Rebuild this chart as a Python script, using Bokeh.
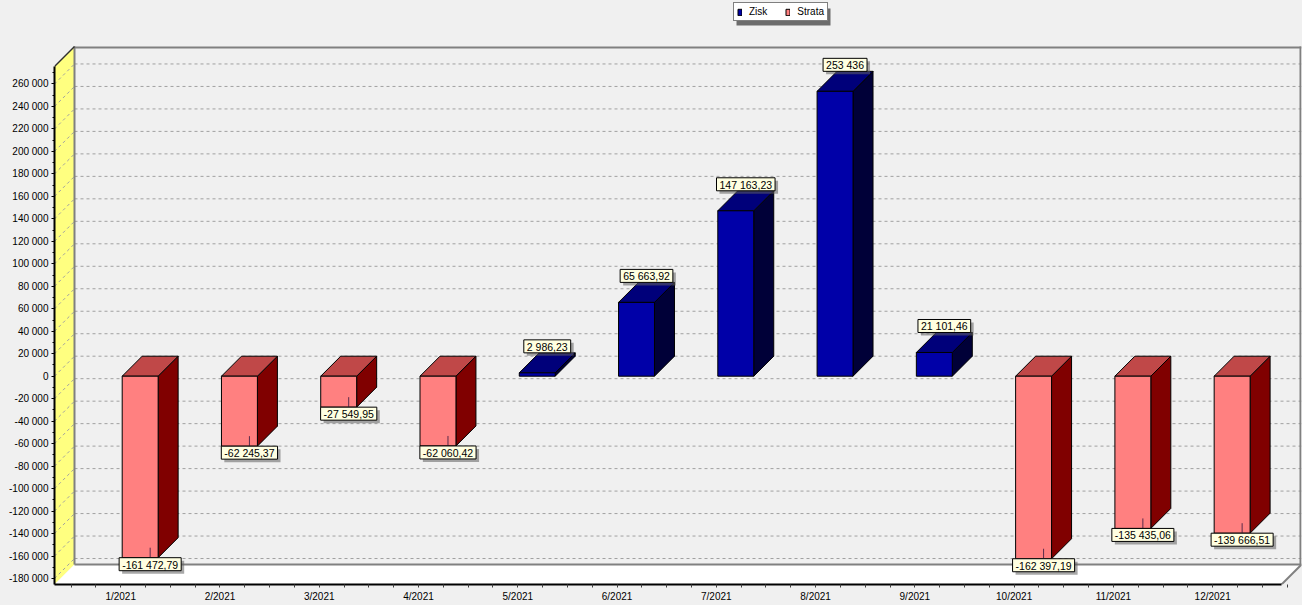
import numpy as np
from bokeh.plotting import figure
from bokeh.models import Range1d, FixedTicker, Legend, LegendItem, CustomJSTickFormatter
from bokeh.core.properties import value
from bokeh.embed import file_html
from bokeh.resources import INLINE

# ---------------- data ----------------
months = ["1/2021", "2/2021", "3/2021", "4/2021", "5/2021", "6/2021",
          "7/2021", "8/2021", "9/2021", "10/2021", "11/2021", "12/2021"]
amounts = [-161472.79, -62245.37, -27549.95, -62060.42, 2986.23, 65663.92,
           147163.23, 253436.00, 21101.46, -162397.19, -135435.06, -139666.51]
y_ticks = list(range(-180000, 260001, 20000))
series_names = ["Zisk", "Strata"]


def fmt(v):
    s = f"{abs(v):,.2f}".replace(",", " ").replace(".", ",")
    if s.endswith(",00"):
        s = s[:-3]
    return ("-" if v < 0 else "") + s


# ---------------- geometry ----------------
W, H = 1302, 605
B_LEFT, B_RIGHT, B_TOP, B_BOTTOM = 54, 1, 0, 21
WALL_TOP_PX = 46      # back wall top, px from top of canvas
PX_X = 99.27          # px per category
PX_Y = 0.001124       # px per value unit
DEPTH = 20            # 3D depth in px
FRAME_W = W - B_LEFT - B_RIGHT
FRAME_H = H - B_TOP - B_BOTTOM
X0 = 0.3331
YT = 293330.0                       # value at the back wall top
dx = DEPTH / PX_X
dy = DEPTH / PX_Y
X1 = X0 + FRAME_W / PX_X
Y1 = YT + WALL_TOP_PX / PX_Y
Y0 = Y1 - FRAME_H / PX_Y
ex = 1.0 / PX_X
ey = 1.0 / PX_Y
BAR_OFF = 0.196
HW = 0.181


def sx(px):  # canvas px -> x data
    return X0 + (px - B_LEFT) / PX_X


def sy(py):  # canvas px -> y data
    return Y1 - py / PX_Y


FONT = value("Liberation Sans")

p = figure(width=W, height=H, output_backend="svg", toolbar_location=None,
           x_range=Range1d(X0, X1), y_range=Range1d(Y0, Y1),
           min_border_left=B_LEFT, min_border_right=B_RIGHT,
           min_border_top=B_TOP, min_border_bottom=B_BOTTOM)
p.background_fill_color = "#F0F0F0"
p.border_fill_color = "#F0F0F0"
p.outline_line_color = None
p.xgrid.visible = False
p.ygrid.visible = False

# ---------------- walls ----------------
p.patch([X0, X0 + dx, X0 + dx, X0], [Y0, Y0 + dy, YT, YT - dy],
        fill_color="#FFFF80", line_color=None)
p.patch([X0, X0 + dx, X1, X1 - dx], [Y0, Y0 + dy, Y0 + dy, Y0],
        fill_color="white", line_color=None)

vals = np.array(y_ticks, dtype=float)
p.segment(x0=[X0 + dx] * len(vals), y0=vals + dy, x1=[X1] * len(vals), y1=vals + dy,
          line_color="#A0A0A0", line_dash="3 3", line_width=1)
p.segment(x0=[X0] * len(vals), y0=vals, x1=[X0 + dx] * len(vals), y1=vals + dy,
          line_color="#A0A0A0", line_dash="3 3", line_width=1)

p.segment(x0=[X0 + dx, X1 - ex, X0 + dx, X1 - dx, X0 + dx],
          y0=[YT - ey, Y0 + dy, Y0 + dy, Y0, Y0 + dy],
          x1=[X1, X1 - ex, X1, X1, X0 + dx],
          y1=[YT - ey, YT, Y0 + dy, Y0 + dy, YT],
          line_color="#808080", line_width=2)
p.segment(x0=[X0], y0=[YT - dy], x1=[X0 + dx], y1=[YT], line_color="#303030", line_width=1.5)

# ---------------- bars ----------------
cats = np.arange(1, len(amounts) + 1)
amt = np.array(amounts)
centers = cats + BAR_OFF
pos = amt >= 0
neg = ~pos

top_xs, top_ys, side_xs, side_ys, top_col, side_col = [], [], [], [], [], []
for c, v in zip(centers, amt):
    xl, xr = c - HW, c + HW
    lo, hi = min(v, 0.0), max(v, 0.0)
    top_xs.append([xl, xr, xr + dx, xl + dx])
    top_ys.append([hi, hi, hi + dy, hi + dy])
    side_xs.append([xr, xr + dx, xr + dx, xr])
    side_ys.append([lo, lo + dy, hi + dy, hi])
    top_col.append("#00007A" if v >= 0 else "#C04848")
    side_col.append("#000038" if v >= 0 else "#800000")

p.patches(side_xs, side_ys, fill_color=side_col, line_color="black", line_width=1)
p.patches(top_xs, top_ys, fill_color=top_col, line_color="black", line_width=1)
r_pos = p.vbar(x=centers[pos], top=amt[pos], bottom=0, width=2 * HW,
               fill_color="#0000A8", line_color="black", line_width=1)
r_neg = p.vbar(x=centers[neg], top=amt[neg], bottom=0, width=2 * HW,
               fill_color="#FF8080", line_color="black", line_width=1)

lx = centers + dx / 2
p.segment(x0=lx[neg], y0=amt[neg] + dy / 2, x1=lx[neg], y1=amt[neg],
          line_color="#5A2A4A", line_width=1)

# ---------------- value labels ----------------
labels = [fmt(v) for v in amounts]
lab_pos = [l for l, m in zip(labels, pos) if m]
lab_neg = [l for l, m in zip(labels, neg) if m]
pad = dict(left=3, right=3, top=1, bottom=0)

for xs_, ys_, txt, anc in [(lx[pos], amt[pos] + dy, lab_pos, "bottom_center"),
                           (lx[neg], amt[neg], lab_neg, "top_center")]:
    p.text(x=xs_, y=ys_, text=txt, anchor=anc, x_offset=3, y_offset=3,
           text_font=FONT, text_font_size="10.5px", text_alpha=0,
           background_fill_color="#606060", background_fill_alpha=0.55, padding=pad)
    p.text(x=xs_, y=ys_, text=txt, anchor=anc,
           text_font=FONT, text_font_size="10.5px", text_color="black",
           background_fill_color="#FFFFE1", border_line_color="black", border_line_width=1,
           padding=pad)

# ---------------- axes ----------------
ya = p.yaxis[0]
ya.ticker = FixedTicker(ticks=y_ticks, minor_ticks=list(range(-180000, 270001, 10000)))
ya.formatter = CustomJSTickFormatter(code="""
const s = Math.abs(tick).toFixed(0).replace(/\\B(?=(\\d{3})+(?!\\d))/g, ' ');
return (tick < 0 ? '-' : '') + s;""")
ya.bounds = (Y0, YT - dy)
ya.axis_line_color = "black"
ya.axis_line_width = 2
ya.major_tick_out = 3
ya.major_tick_in = 0
ya.minor_tick_out = 2
ya.minor_tick_in = 0
ya.major_tick_line_color = "black"
ya.minor_tick_line_color = "black"
ya.major_label_standoff = 3
ya.major_label_text_font = "Liberation Sans"
ya.major_label_text_font_size = "10px"
ya.major_label_text_color = "black"

xa = p.xaxis[0]
minor_x = [t for t in np.arange(0.5, 12.8, 0.25) if abs(t - round(t)) > 1e-6]
xa.ticker = FixedTicker(ticks=[float(c) for c in cats], minor_ticks=minor_x)
xa.formatter = CustomJSTickFormatter(args=dict(labels=months),
                                     code="return labels[Math.round(tick) - 1] || '';")
xa.bounds = (X0, X1 - dx)
xa.axis_line_color = "black"
xa.axis_line_width = 2
xa.major_tick_out = 3
xa.major_tick_in = 0
xa.minor_tick_out = 3
xa.minor_tick_in = 0
xa.major_tick_line_color = "#404040"
xa.minor_tick_line_color = "#404040"
xa.major_label_standoff = 3
xa.major_label_text_font = "Liberation Sans"
xa.major_label_text_font_size = "10px"
xa.major_label_text_color = "black"

# ---------------- legend (with drop shadow), above the back wall ----------------
LEG_L, LEG_T, LEG_R, LEG_B = 733, 4, 827, 21     # legend box, canvas px
p.quad(left=sx(LEG_L + 3), right=sx(LEG_R + 3), top=sy(LEG_T + 4), bottom=sy(LEG_B + 4),
       fill_color="#404040", fill_alpha=0.75, line_color=None)
legend = Legend(items=[LegendItem(label=series_names[0], renderers=[r_pos]),
                       LegendItem(label=series_names[1], renderers=[r_neg])],
                location=(LEG_L - B_LEFT, FRAME_H - LEG_B),
                orientation="horizontal", padding=3, spacing=18, label_standoff=7, margin=0,
                glyph_width=5, glyph_height=8, label_height=10, label_width=0,
                label_text_font="Liberation Sans", label_text_font_size="10px",
                label_text_color="black",
                border_line_color="black", border_line_width=1,
                background_fill_color="white", background_fill_alpha=1)
p.add_layout(legend)

html = file_html(p, INLINE, title="chart")
html = html.replace("</head>",
                    "<style>html,body{margin:0!important;padding:0!important;"
                    "background:#F0F0F0;overflow:hidden;}</style></head>", 1)
open("out.html", "w").write(html)
